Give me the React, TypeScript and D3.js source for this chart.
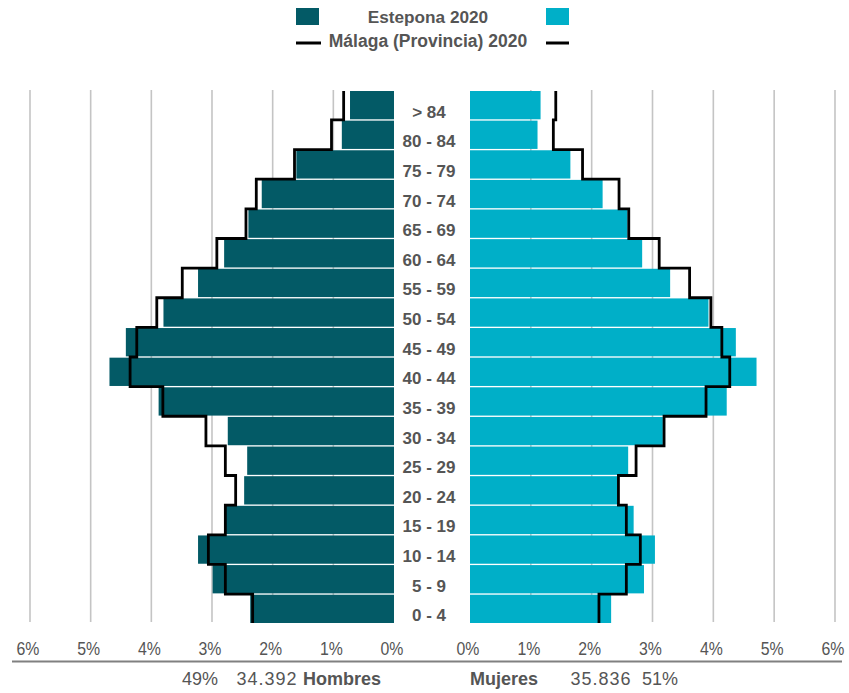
import React from "react";
import * as d3 from "d3";

const ages = ["0 - 4","5 - 9","10 - 14","15 - 19","20 - 24","25 - 29","30 - 34","35 - 39","40 - 44","45 - 49","50 - 54","55 - 59","60 - 64","65 - 69","70 - 74","75 - 79","80 - 84","> 84"];
const esteponaMen = [2.37, 2.99, 3.23, 2.77, 2.47, 2.42, 2.74, 3.88, 4.69, 4.42, 3.80, 3.23, 2.80, 2.40, 2.18, 1.61, 0.86, 0.725];
const malagaMen = [2.33, 2.78, 3.06, 2.78, 2.61, 2.78, 3.10, 3.81, 4.35, 4.24, 3.91, 3.49, 2.92, 2.44, 2.27, 1.64, 1.03, 0.83];
const esteponaWomen = [2.32, 2.86, 3.04, 2.69, 2.42, 2.60, 3.17, 4.22, 4.71, 4.37, 3.92, 3.29, 2.83, 2.59, 2.18, 1.65, 1.11, 1.16];
const malagaWomen = [2.12, 2.57, 2.80, 2.57, 2.44, 2.73, 3.19, 3.88, 4.27, 4.14, 3.96, 3.61, 3.11, 2.61, 2.45, 1.85, 1.37, 1.41];
const tickValues = [0, 1, 2, 3, 4, 5, 6];
const totalsMen = { pct: "49%", count: "34.392", label: "Hombres" };
const totalsWomen = { pct: "51%", count: "35.836", label: "Mujeres" };
const legendLabels = ["Estepona 2020", "Málaga (Provincia) 2020"];

const W = 849, H = 693;
const DARK = "#035a66";
const LIGHT = "#00afc8";
const GRAY = "#555555";
const SANS = "'Liberation Sans', Arial, sans-serif";

export default function App() {
  const y = d3.scaleBand<string>().domain([...ages].reverse()).range([91, 623]).paddingInner(0.045).paddingOuter(0);
  const step = y.step();
  const xL = d3.scaleLinear().domain([0, 6]).range([394, 30]);
  const xR = d3.scaleLinear().domain([0, 6]).range([470, 835]);

  const stepPoints = (vals: number[], xs: d3.ScaleLinear<number, number>) => {
    const pts: [number, number][] = [];
    for (let i = ages.length - 1; i >= 0; i--) {
      const top = (y(ages[i]) as number) - (step - y.bandwidth()) / 2;
      const yy0 = Math.max(top, 91);
      const yy1 = Math.min(top + step, 623);
      pts.push([xs(vals[i]), yy0]);
      pts.push([xs(vals[i]), yy1]);
    }
    return pts;
  };
  const line = d3.line<[number, number]>().x(d => d[0]).y(d => d[1]);

  const narrowText = (x: number, yy: number, s: string, anchor: string, bold = false, key?: string) => (
    <text key={key} transform={`translate(${x},${yy}) scale(0.88,1)`} textAnchor={anchor} fontFamily={SANS} fontWeight={bold ? "bold" : "normal"} fontSize={18} fill={GRAY}>{s}</text>
  );

  return (
    <svg width={W} height={H} style={{ position: "absolute", left: 0, top: 0, background: "#fff" }}>
      <rect x={0} y={0} width={W} height={H} fill="#fff" />
      {/* legend */}
      <rect x={296} y={8} width={23} height={17} fill={DARK} />
      <rect x={546} y={8} width={23} height={17} fill={LIGHT} />
      <line x1={296} x2={321} y1={43} y2={43} stroke="#000" strokeWidth={3} />
      <line x1={546} x2={569} y1={43} y2={43} stroke="#000" strokeWidth={3} />
      <text x={428} y={23} textAnchor="middle" fontFamily={SANS} fontWeight="bold" fontSize={17.2} fill={GRAY}>{legendLabels[0]}</text>
      <text x={428} y={47} textAnchor="middle" fontFamily={SANS} fontWeight="bold" fontSize={17.5} fill={GRAY}>{legendLabels[1]}</text>

      {/* gridlines */}
      {tickValues.filter(t => t > 0).map(t => (
        <g key={"g" + t}>
          <line x1={xL(t)} x2={xL(t)} y1={90} y2={622} stroke="#c4c4c4" strokeWidth={1.6} />
          <line x1={xR(t)} x2={xR(t)} y1={90} y2={622} stroke="#c4c4c4" strokeWidth={1.6} />
        </g>
      ))}

      {/* bars */}
      {ages.map((a, i) => (
        <g key={a}>
          <rect x={xL(esteponaMen[i])} y={y(a)} width={xL(0) - xL(esteponaMen[i])} height={y.bandwidth()} fill={DARK} />
          <rect x={xR(0)} y={y(a)} width={xR(esteponaWomen[i]) - xR(0)} height={y.bandwidth()} fill={LIGHT} />
          <text x={429} y={(y(a) as number) + y.bandwidth() / 2 + 8} dominantBaseline="middle" textAnchor="middle" fontFamily={SANS} fontWeight="bold" fontSize={17} fill={GRAY}>{a}</text>
        </g>
      ))}

      {/* Malaga step lines */}
      <path d={line(stepPoints(malagaMen, xL)) as string} fill="none" stroke="#000" strokeWidth={2.8} strokeLinejoin="miter" />
      <path d={line(stepPoints(malagaWomen, xR)) as string} fill="none" stroke="#000" strokeWidth={2.8} strokeLinejoin="miter" />

      {/* axis labels */}
      {tickValues.map(t => narrowText(xL(t) - 2, 655, t + "%", "middle", false, "l" + t))}
      {tickValues.map(t => narrowText(xR(t) - 2, 655, t + "%", "middle", false, "r" + t))}
      <line x1={12} x2={842} y1={661.5} y2={661.5} stroke="#808080" strokeWidth={2} />

      {/* totals */}
      <text x={200} y={685} textAnchor="middle" fontFamily={SANS} fontSize={18} fill={GRAY}>{totalsMen.pct}</text>
      <text x={267} y={685} textAnchor="middle" fontFamily={SANS} fontSize={18} letterSpacing={1} fill={GRAY}>{totalsMen.count}</text>
      <text x={303} y={685} textAnchor="start" fontFamily={SANS} fontWeight="bold" fontSize={18} fill={GRAY}>{totalsMen.label}</text>
      <text x={470} y={685} textAnchor="start" fontFamily={SANS} fontWeight="bold" fontSize={18} fill={GRAY}>{totalsWomen.label}</text>
      <text x={601} y={685} textAnchor="middle" fontFamily={SANS} fontSize={18} letterSpacing={1} fill={GRAY}>{totalsWomen.count}</text>
      <text x={660} y={685} textAnchor="middle" fontFamily={SANS} fontSize={18} fill={GRAY}>{totalsWomen.pct}</text>
    </svg>
  );
}
